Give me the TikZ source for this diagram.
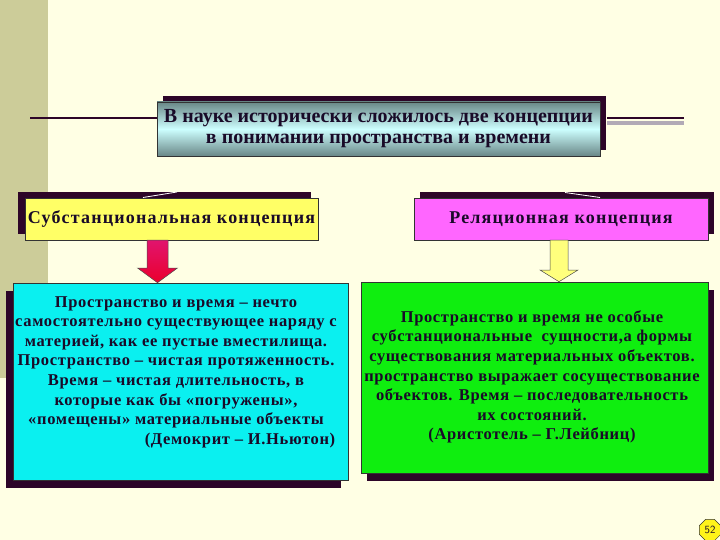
\documentclass[tikz,border=0pt]{standalone}
\usepackage{fontspec}
\setmainfont{Liberation Serif}
\newfontfamily\subfont{Liberation Serif}[LetterSpace=6.5]
\newfontfamily\bodyfont{Liberation Serif}[LetterSpace=4.0]
\usetikzlibrary{shadows,shapes.geometric,calc}
\definecolor{bgc}{RGB}{255,255,228}
\definecolor{khaki}{RGB}{204,204,153}
\definecolor{shadowc}{RGB}{45,5,40}
\definecolor{txtc}{RGB}{25,10,40}
\definecolor{ylw}{RGB}{255,255,102}
\definecolor{mag}{RGB}{255,102,255}
\definecolor{cyn}{RGB}{10,240,240}
\definecolor{grn}{RGB}{15,238,15}
\definecolor{barc}{RGB}{178,170,182}
\definecolor{ttledge}{RGB}{105,135,135}
\definecolor{ttlmid}{RGB}{205,255,255}
\definecolor{arrtop}{RGB}{225,20,110}
\definecolor{arrbot}{RGB}{235,0,45}
\tikzset{
  boxbase/.style={draw=black!80, line width=0.6pt, inner sep=0pt},
  ttlbox/.style={boxbase, top color=ttledge, bottom color=ttledge, middle color=ttlmid,
     minimum width=443pt, minimum height=54pt, align=center, text=txtc,
     font=\fontsize{20}{21}\selectfont\bfseries,
     general shadow={fill=shadowc, shadow xshift=6pt, shadow yshift=5.5pt}},
  subbox/.style={boxbase, minimum width=293pt, minimum height=42pt, text=txtc,
     font=\subfont\fontsize{18}{20}\selectfont\bfseries},
  bigbox/.style={boxbase},
  bodytext/.style={align=center, text=txtc, inner sep=0pt,
     font=\bodyfont\fontsize{16.5}{19.6}\selectfont\bfseries},
  arrowline/.style={draw=black!70, line width=0.5pt},
  hairline/.style={draw=white, line width=0.8pt},
}
\begin{document}
\begin{tikzpicture}[x=1pt,y=-1pt]
\useasboundingbox (0,0) rectangle (720,540);
\fill[bgc] (0,0) rectangle (720,540);
\fill[khaki] (0,0) rectangle (48,378);

% title
\node[ttlbox] (title) at (378.5,129) {В науке исторически сложилось две концепции\\в понимании пространства и времени};
\coordinate (lstart) at (30,118);
\draw[shadowc, line width=2.2pt] (lstart) -- (lstart -| title.west);
\coordinate (barend) at (684,118);
\fill[barc] ($(title.east)+(7,-7.5)$) rectangle ($(barend)+(0,7.5)$);
\draw[shadowc, line width=2pt] ($(title.east)+(7,-11)$) |- (barend);

% concept boxes
\node[subbox, fill=ylw, general shadow={fill=shadowc, shadow xshift=-7pt, shadow yshift=6pt}] (sub) at (171.5,219) {Субстанциональная концепция};
\node[subbox, minimum width=294pt, fill=mag, general shadow={fill=shadowc, shadow xshift=6pt, shadow yshift=6pt}] (rel) at (561,219) {Реляционная концепция};

\coordinate (wl1) at (143,197.5);
\coordinate (wl2) at (177,192);
\draw[hairline] (wl1) -- (wl2);
\coordinate (wr1) at (565,192.5);
\coordinate (wr2) at (600,197.5);
\draw[hairline] (wr1) -- (wr2);

% description boxes
\node[bigbox, fill=cyn, minimum width=335pt, minimum height=197pt,
  general shadow={fill=shadowc, shadow xshift=-7pt, shadow yshift=-8pt}] (subd) at (180.5,381.5) {};
\node[bigbox, fill=grn, minimum width=347pt, minimum height=191pt,
  general shadow={fill=shadowc, shadow xshift=6pt, shadow yshift=-8pt}] (reld) at (534.5,377.5) {};

\node[bodytext] (subt) at (176,372) {Пространство и время – нечто\\
самостоятельно существующее наряду с\\
материей, как ее пустые вместилища.\\
Пространство – чистая протяженность.\\
Время – чистая длительность, в\\
которые как бы «погружены»,\\
«помещены» материальные объекты\\
\hspace*{128pt}(Демокрит – И.Ньютон)};

\node[bodytext] (relt) at (532,377) {Пространство и время не особые\\
субстанциональные \ сущности,а формы\\
существования материальных объектов.\\
пространство выражает сосуществование\\
объектов. Время – последовательность\\
их состояний.\\
(Аристотель – Г.Лейбниц)};

% block arrows
\coordinate (la) at (157.5,240);
\shade[top color=arrtop, bottom color=arrbot, arrowline]
  ($(la)+(-10.5,0)$) -- ($(la)+(10.5,0)$) -- ($(la)+(10.5,28)$) -- ($(la)+(20,28)$)
  -- (la |- subd.north) -- ($(la)+(-20,28)$) -- ($(la)+(-10.5,28)$) -- cycle;
\coordinate (ra) at (559,240);
\fill[ylw!85!white, arrowline]
  ($(ra)+(-9,0)$) -- ($(ra)+(9,0)$) -- ($(ra)+(9,30)$) -- ($(ra)+(19,30)$)
  -- (ra |- reld.north) -- ($(ra)+(-19,30)$) -- ($(ra)+(-9,30)$) -- cycle;

% page number
\node[regular polygon, regular polygon sides=8, draw=black!80, fill=yellow!90!white,
  minimum size=23pt, inner sep=0pt, font=\sffamily\fontsize{11}{11}\selectfont, text=txtc] (pg) at (710,530) {52};
\end{tikzpicture}
\end{document}
